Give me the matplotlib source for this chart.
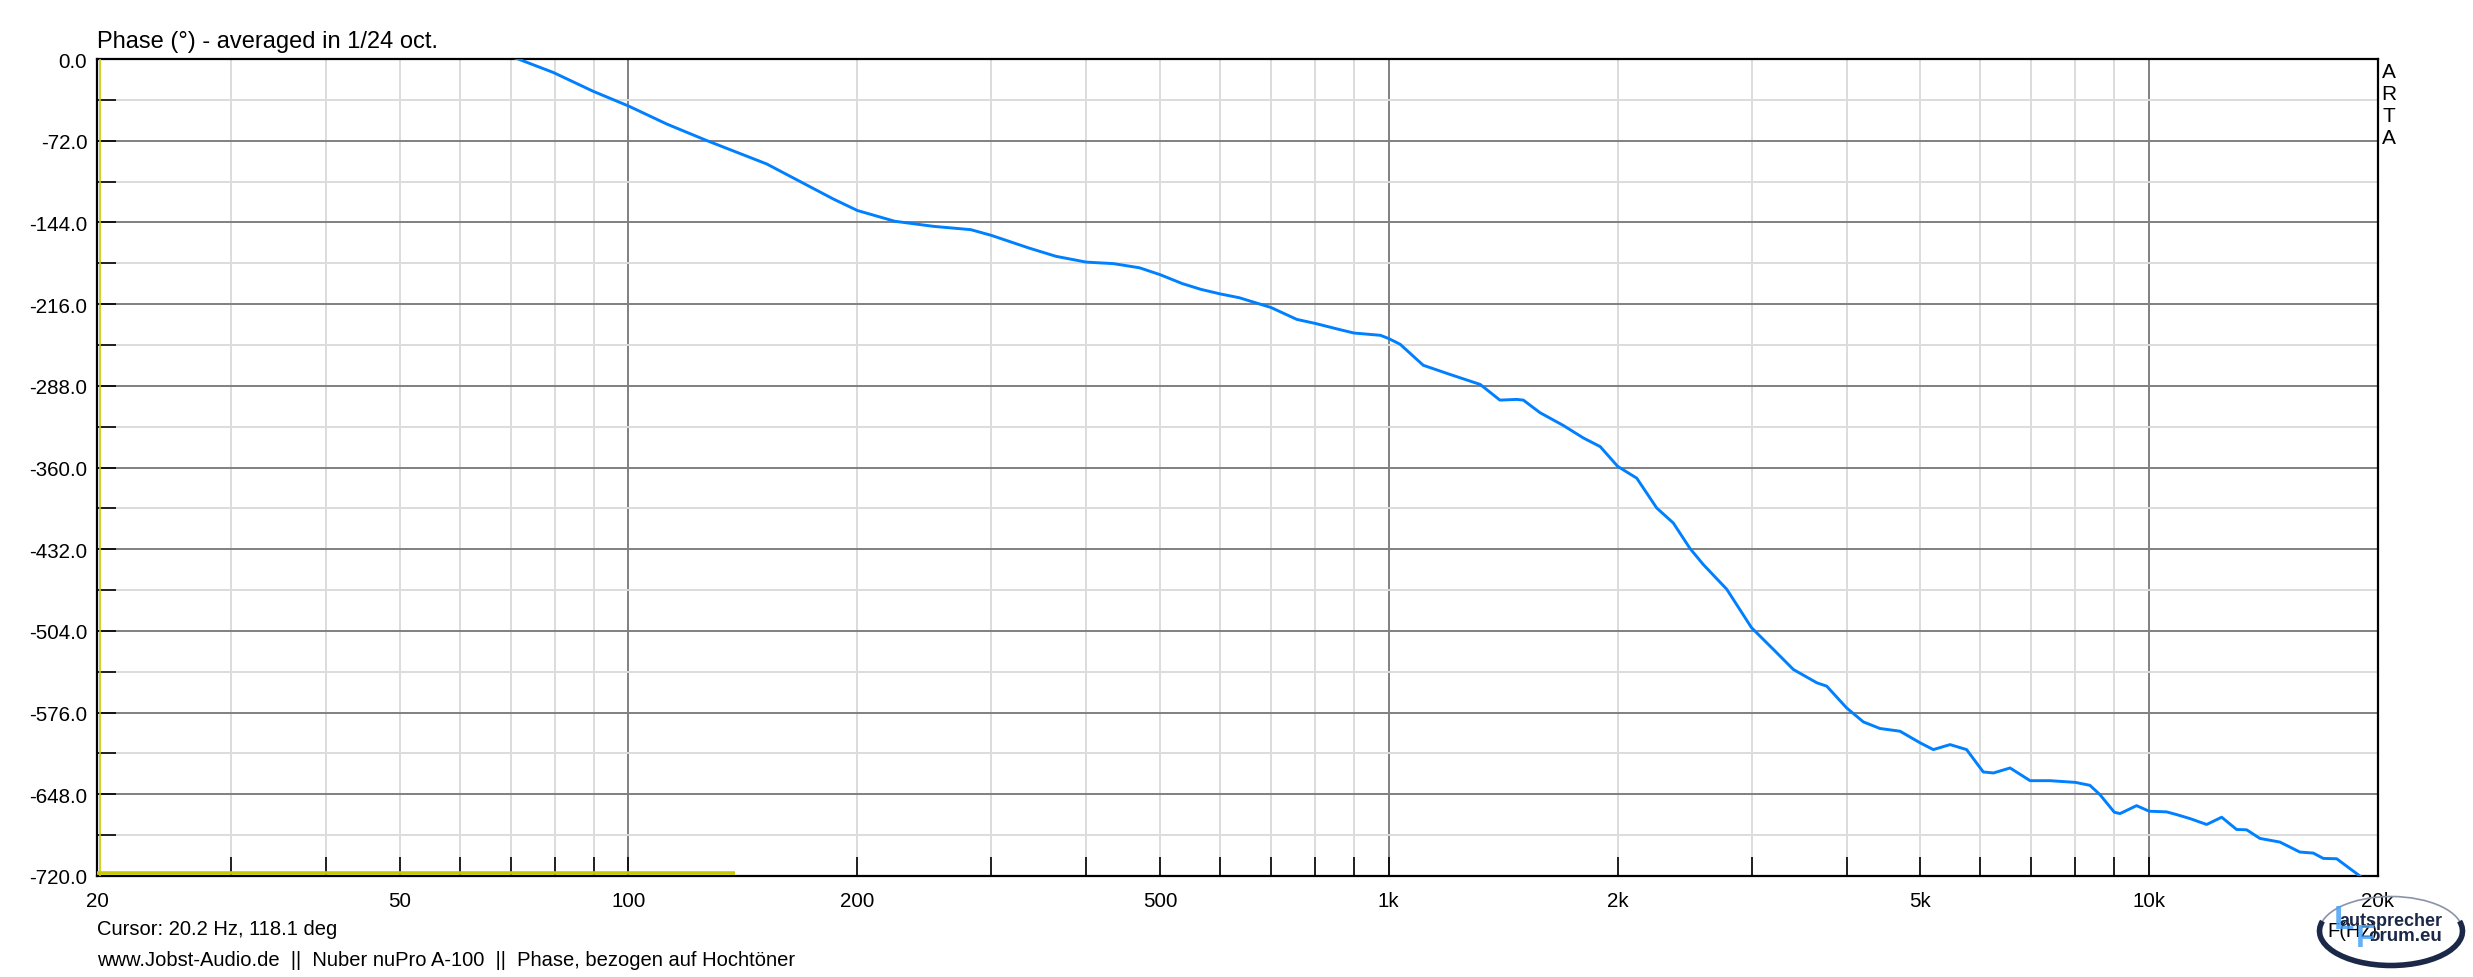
import numpy as np
import matplotlib
matplotlib.use("Agg")
import matplotlib.pyplot as plt
from matplotlib.ticker import FixedLocator, FuncFormatter, MultipleLocator
from matplotlib.patches import Ellipse, Arc

plt.rcParams['font.family'] = ['Liberation Sans', 'DejaVu Sans']

# phase response (Hz, degrees)
freq_hz = [20, 71.6, 79.6, 89.9, 100, 112.3, 126.9, 152, 186, 200, 224, 252, 282, 300,
           336, 365, 400, 434, 470, 500, 535, 566, 600, 636, 700, 757, 800, 860, 900,
           975, 1000, 1035, 1110, 1204, 1319, 1400, 1473, 1503, 1581, 1697, 1803, 1897,
           2000, 2119, 2251, 2367, 2490, 2592, 2783, 3000, 3205, 3405, 3655, 3767, 4000,
           4209, 4426, 4703, 5000, 5202, 5472, 5754, 6051, 6241, 6564, 6974, 7407, 8000,
           8359, 8617, 9000, 9157, 9627, 10000, 10545, 10870, 11317, 11904, 12457, 13034,
           13436, 13989, 14861, 15787, 16439, 16947, 17648, 18931]
phase_deg = [118.1, 0, -11.8, -28.5, -41.4, -57.3, -72, -92.5, -123.4, -133.5, -143, -147.5,
             -150.4, -155.4, -166.5, -173.9, -179, -180.3, -184, -190, -197.9, -203, -207,
             -210.4, -219, -229.5, -233, -238.3, -241.5, -243.5, -246.4, -251.4, -269.9,
             -278, -286.8, -300.6, -300, -300.6, -311.7, -323, -334, -341.6, -359, -369.4,
             -395.7, -408.9, -431.4, -445.5, -467.3, -501.2, -520.3, -538, -549.7, -552.7,
             -571.8, -584.2, -590, -592.4, -602.7, -608.6, -604.2, -608.6, -628.3, -629.2,
             -624.8, -636, -636, -637.5, -640.1, -648.3, -663.8, -665, -658, -662.9, -663.5,
             -665.9, -669.4, -674.6, -668.2, -679, -679.3, -686.9, -690.1, -698.9, -699.8,
             -704.5, -704.8, -720]

cursor_hz = 20.2
cursor_deg = 118.1
marker_hz = [20, 138]
marker_deg = [-717.5, -717.5]

x_major = [100, 1000, 10000]
x_minor = [20, 30, 40, 50, 60, 70, 80, 90, 200, 300, 400, 500, 600, 700, 800, 900,
           2000, 3000, 4000, 5000, 6000, 7000, 8000, 9000, 20000]
x_labels = {20: '20', 50: '50', 100: '100', 200: '200', 500: '500', 1000: '1k',
            2000: '2k', 5000: '5k', 10000: '10k', 20000: '20k'}

W, H = 2473, 978
fig = plt.figure(figsize=(W / 100, H / 100), dpi=100)
ax = fig.add_axes([97 / W, 1 - 877 / H, (2378 - 97) / W, (877 - 60) / H])

ax.set_xscale('log')
ax.set_xlim(20, 20000)
ax.set_ylim(-720, 0)

ax.xaxis.set_major_locator(FixedLocator(x_major))
ax.xaxis.set_minor_locator(FixedLocator(x_minor))
fmt = FuncFormatter(lambda v, p: x_labels.get(int(round(v)), ''))
ax.xaxis.set_major_formatter(fmt)
ax.xaxis.set_minor_formatter(fmt)

ax.yaxis.set_major_locator(MultipleLocator(72))
ax.yaxis.set_minor_locator(MultipleLocator(36))
ax.yaxis.set_major_formatter(FuncFormatter(lambda v, p: f"{v:.1f}"))

ax.grid(which='major', color='#808080', linewidth=1.4, zorder=0)
ax.grid(which='minor', color='#dcdcdc', linewidth=1.4, zorder=0)
ax.set_axisbelow(True)

ax.tick_params(axis='both', which='both', direction='in', length=14, width=1.2,
               color='black', labelsize=14.8, top=False, right=False)
ax.tick_params(axis='x', which='both', pad=11)
ax.tick_params(axis='y', which='both', pad=7)

for s in ax.spines.values():
    s.set_linewidth(1.6)
    s.set_color('black')

ax.plot(freq_hz, phase_deg, color='#0080ff', linewidth=2.1, zorder=3)
ax.axvline(cursor_hz, color='#c8c800', linewidth=1.2, zorder=4)
ax.plot(marker_hz, marker_deg, color='#c8c800', linewidth=2.6, zorder=4,
        solid_capstyle='butt')

fig.text(97 / W, 1 - 48 / H, 'Phase (°) - averaged in 1/24 oct.', fontsize=17,
         ha='left', va='baseline')
for i, ch in enumerate('ARTA'):
    fig.text(2389 / W, 1 - (72 + 22.3 * i) / H, ch, fontsize=15, ha='center', va='center')
fig.text(97 / W, 1 - 930 / H, f'Cursor: {cursor_hz} Hz, {cursor_deg} deg', fontsize=14.5,
         ha='left', va='center')
fig.text(97 / W, 1 - 961 / H,
         'www.Jobst-Audio.de  ||  Nuber nuPro A-100  ||  Phase, bezogen auf Hochtöner',
         fontsize=14.5, ha='left', va='center')
fig.text(2327 / W, 1 - 932 / H, 'F(Hz)', fontsize=14.5, ha='left', va='center')

# forum logo watermark
logo_xy = (2391 / W, 1 - 932 / H)
fig.add_artist(Ellipse(logo_xy, 143 / W, 69 / H, transform=fig.transFigure,
                       facecolor='none', edgecolor='#8a93a8', linewidth=1.2))
fig.add_artist(Arc(logo_xy, 143 / W, 69 / H, theta1=160, theta2=380,
                   transform=fig.transFigure, edgecolor='#1c2848', linewidth=4))
fig.text(2340 / W, 1 - 922 / H, 'autsprecher', fontsize=13, fontweight='bold',
         color='#1c2848', ha='left', va='center')
fig.text(2368 / W, 1 - 937 / H, 'orum.eu', fontsize=13.5, fontweight='bold',
         color='#1c2848', ha='left', va='center')
fig.text(2334 / W, 1 - 921 / H, 'L', fontsize=24, fontweight='bold', color='#4aa3f5',
         ha='left', va='center', alpha=0.85)
fig.text(2356 / W, 1 - 939 / H, 'F', fontsize=23, fontweight='bold', color='#4aa3f5',
         ha='left', va='center', alpha=0.85)

fig.savefig('out.png', dpi=100)
